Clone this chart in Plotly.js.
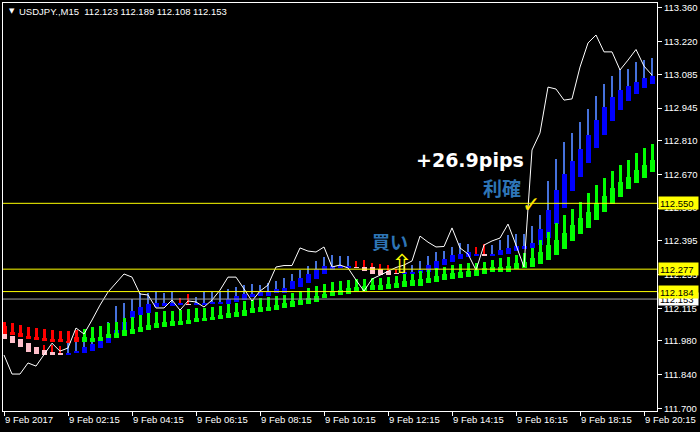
<!DOCTYPE html>
<html><head><meta charset="utf-8">
<script src="https://cdn.plot.ly/plotly-3.0.1.min.js"></script>
<style>html,body{margin:0;padding:0;background:#000;}#chart{width:700px;height:432px;}</style>
</head><body><div id="chart"></div>
<script>
// ---------- data ----------
const symbol = "USDJPY.,M15";
const headerOHLC = [112.123, 112.189, 112.108, 112.153];
const xTickText = ["9 Feb 2017","9 Feb 02:15","9 Feb 04:15","9 Feb 06:15","9 Feb 08:15","9 Feb 10:15",
                   "9 Feb 12:15","9 Feb 14:15","9 Feb 16:15","9 Feb 18:15","9 Feb 20:15"];
const yTickVals = [113.360,113.220,113.085,112.945,112.810,112.670,112.530,112.395,112.255,112.115,111.980,111.840,111.700];

// white close line (one value per 15-min bar)
const lineClose = [111.921,111.842,111.842,111.888,111.875,111.921,111.970,111.937,111.950,112.033,
 112.008,112.066,112.128,112.182,112.219,112.257,112.244,112.174,112.170,112.116,
 112.116,112.149,112.107,112.145,112.141,112.120,112.149,112.190,112.244,112.244,
 112.195,112.145,112.186,112.211,112.286,112.292,112.292,112.365,112.352,112.348,
 112.369,112.286,112.294,112.282,112.232,112.186,112.236,112.253,112.267,112.284,
 112.294,112.311,112.414,112.389,112.369,112.371,112.448,112.365,112.340,112.273,
 112.377,112.394,112.406,112.464,112.377,112.286,112.771,112.842,113.032,113.024,
 112.978,112.983,113.115,113.215,113.248,113.178,113.178,113.103,113.144,113.188,
 113.119,113.082];

// fast Heiken Ashi (blue / pink)
const aHigh = [112.008,112.000,111.986,111.972,111.955,111.962,111.962,111.958,111.969,111.975,
 111.975,111.997,112.004,112.059,112.124,112.137,112.152,112.177,112.177,112.188,
 112.179,112.181,112.157,112.173,112.163,112.181,112.181,112.186,112.195,112.204,
 112.211,112.214,112.211,112.218,112.228,112.241,112.256,112.273,112.291,112.311,
 112.329,112.334,112.333,112.333,112.309,112.315,112.302,112.300,112.294,112.278,
 112.294,112.294,112.311,112.333,112.347,112.352,112.370,112.384,112.381,112.367,
 112.381,112.377,112.398,112.420,112.422,112.422,112.456,112.501,112.643,112.734,
 112.803,112.840,112.886,112.941,112.996,113.043,113.079,113.107,113.108,113.136,
 113.145,113.154];
const aOpen = [112.008,112.000,111.986,111.972,111.955,111.942,111.933,111.929,111.921,111.929,
 111.931,111.939,111.952,111.971,111.996,112.025,112.074,112.087,112.096,112.121,
 112.124,112.125,112.128,112.134,112.128,112.128,112.131,112.131,112.131,112.141,
 112.149,112.163,112.167,112.167,112.178,112.178,112.195,112.205,112.220,112.236,
 112.257,112.272,112.282,112.283,112.287,112.286,112.284,112.276,112.271,112.263,
 112.259,112.258,112.262,112.266,112.278,112.294,112.305,112.318,112.329,112.333,
 112.340,112.333,112.337,112.341,112.352,112.361,112.363,112.377,112.405,112.463,
 112.529,112.601,112.660,112.718,112.778,112.833,112.891,112.938,112.974,113.002,
 113.030,113.046];
const aClose = [111.987,111.972,111.953,111.935,111.927,111.920,111.920,111.923,111.931,111.938,
 111.955,111.967,111.981,111.997,112.025,112.058,112.103,112.121,112.134,112.138,
 112.138,112.135,112.135,112.127,112.135,112.138,112.139,112.142,112.153,112.166,
 112.173,112.175,112.181,112.182,112.193,112.200,112.226,112.240,112.258,112.278,
 112.292,112.289,112.290,112.290,112.280,112.271,112.256,112.253,112.254,112.257,
 112.266,112.266,112.274,112.294,112.309,112.321,112.335,112.340,112.347,112.340,
 112.331,112.340,112.358,112.364,112.375,112.371,112.384,112.443,112.522,112.605,
 112.670,112.725,112.775,112.833,112.895,112.949,112.991,113.020,113.036,113.054,
 113.070,113.078];
const aWickUp = [0,0,0,0,0,0,0,0,1,1, 1,1,1,1,1,1,1,1,1,1, 1,1,0,0,1,1,1,1,1,1,
 1,1,1,1,1,1,1,1,1,1, 1,1,1,1,0,0,0,0,0,0, 1,1,1,1,1,1,1,1,1,0,
 0,1,1,1,1,1,1,1,1,1, 1,1,1,1,1,1,1,1,1,1, 1,1];

// slow Heiken Ashi (lime / red)
const bHigh = [112.058,112.054,112.045,112.037,112.033,112.029,112.025,112.020,112.020,112.025,
 112.029,112.037,112.041,112.054,112.058,112.074,112.078,112.087,112.095,112.099,
 112.103,112.103,112.108,112.112,112.116,112.116,112.120,112.124,112.132,112.137,
 112.145,112.149,112.157,112.161,112.164,112.170,112.178,112.186,112.199,112.207,
 112.215,112.224,112.228,112.232,112.236,112.238,112.240,112.242,112.244,112.249,
 112.255,112.259,112.269,112.273,112.280,112.284,112.294,112.297,112.301,112.302,
 112.308,112.315,112.322,112.329,112.336,112.343,112.366,112.398,112.432,112.467,
 112.501,112.526,112.557,112.592,112.626,112.654,112.684,112.709,112.729,112.757,
 112.778,112.798];
const bOpen = [112.041,112.016,112.012,112.000,111.996,111.991,111.987,111.987,111.979,111.996,
 111.975,111.975,111.979,111.991,111.991,112.000,112.008,112.016,112.025,112.033,
 112.037,112.041,112.045,112.050,112.058,112.062,112.066,112.070,112.074,112.078,
 112.083,112.095,112.099,112.103,112.108,112.116,112.120,112.128,112.132,112.141,
 112.157,112.166,112.170,112.176,112.182,112.186,112.190,112.190,112.195,112.199,
 112.203,112.207,112.209,112.218,112.225,112.232,112.236,112.241,112.245,112.250,
 112.255,112.264,112.267,112.266,112.278,112.283,112.287,112.297,112.315,112.336,
 112.360,112.393,112.421,112.449,112.481,112.512,112.546,112.578,112.609,112.634,
 112.657,112.681];
const bClose = [112.008,112.004,111.996,111.987,111.983,111.979,111.975,111.975,111.971,111.975,
 111.996,111.991,111.996,112.008,112.012,112.025,112.029,112.037,112.045,112.054,
 112.058,112.060,112.062,112.066,112.074,112.074,112.078,112.087,112.095,112.099,
 112.108,112.116,112.120,112.122,112.128,112.137,112.143,112.149,112.157,112.164,
 112.174,112.186,112.190,112.197,112.203,112.207,112.211,112.211,112.215,112.220,
 112.226,112.230,112.236,112.240,112.249,112.255,112.260,112.266,112.269,112.273,
 112.280,112.287,112.288,112.291,112.301,112.308,112.322,112.349,112.377,112.398,
 112.425,112.460,112.488,112.515,112.550,112.580,112.612,112.638,112.661,112.688,
 112.709,112.728];

const levels = [112.550, 112.277, 112.184];
const bidPrice = 112.153;
const noteTexts = ["+26.9pips", "利確", "買い"];

// ---------- drawing ----------
const idx = lineClose.map((_, i) => i);
const lo = (o, c) => o.map((v, i) => Math.min(v, c[i]));

function wickTrace(high, open, close, colorFn, width) {
  const base = lo(open, close);
  return {type: 'bar', x: idx, base: base, y: high.map((h, i) => h - base[i]), width: width,
    marker: {color: idx.map(colorFn), line: {width: 0}}, hoverinfo: 'skip'};
}
function bodyTrace(open, close, up, down, width) {
  const base = lo(open, close);
  return {type: 'bar', x: idx, base: base, y: open.map((o, i) => Math.abs(close[i] - o)), width: width,
    marker: {color: open.map((o, i) => close[i] >= o ? up : down), line: {width: 0}}, hoverinfo: 'skip'};
}

const traces = [
  wickTrace(aHigh, aOpen, aClose, i => aWickUp[i] ? '#4672DC' : '#FF0000', 0.14),
  bodyTrace(aOpen, aClose, '#0000FF', '#FFC0CB', 0.625),
  wickTrace(bHigh, bOpen, bClose, i => bClose[i] >= bOpen[i] ? '#00FF00' : '#FF0000', 0.375),
  bodyTrace(bOpen, bClose, '#00FF00', '#FF0000', 0.625),
  {type: 'scatter', mode: 'lines', x: idx, y: lineClose, line: {color: '#FFFFFF', width: 1}, hoverinfo: 'skip'}
];

const tickFont = {family: '"Liberation Sans", Arial, sans-serif', size: 9.5, color: '#FFFFFF'};
const shapes = levels.map(v => ({type: 'line', xref: 'paper', x0: 0, x1: 1, yref: 'y', y0: v, y1: v,
  line: {color: '#FFFF00', width: 1}}));
shapes.push({type: 'line', xref: 'paper', x0: 0, x1: 1, yref: 'y', y0: bidPrice, y1: bidPrice,
  line: {color: '#A0A0A0', width: 1}});

const annotations = [];
// bid label first so the yellow level labels sit on top of it
annotations.push({xref: 'paper', x: 1, xanchor: 'left', xshift: 1, yref: 'y', y: bidPrice,
  text: bidPrice.toFixed(3), showarrow: false, bgcolor: '#FFFFFF', font: {family: tickFont.family, size: 9.5, color: '#000'},
  width: 37, height: 10, borderpad: 1, align: 'left'});
levels.forEach(v => annotations.push({xref: 'paper', x: 1, xanchor: 'left', xshift: 1, yref: 'y', y: v,
  text: v.toFixed(3), showarrow: false, bgcolor: '#FFFF00', font: {family: tickFont.family, size: 9.5, color: '#000'},
  width: 37, height: 10, borderpad: 1, align: 'left'}));
// header
annotations.push({xref: 'paper', yref: 'paper', x: 0, y: 1, xanchor: 'left', yanchor: 'middle', xshift: 4, yshift: -8,
  text: '▼', showarrow: false, font: {family: '"DejaVu Sans", sans-serif', size: 7, color: '#FFFFFF'}});
annotations.push({xref: 'paper', yref: 'paper', x: 0, y: 1, xanchor: 'left', yanchor: 'middle', xshift: 14, yshift: -8,
  text: symbol + '\u00a0\u00a0' + headerOHLC.map(v => v.toFixed(3)).join(' '), showarrow: false,
  font: {family: tickFont.family, size: 9.5, color: '#FFFFFF'}});
// notes on the chart
annotations.push({x: 58.2, y: 112.729, text: '<b>' + noteTexts[0] + '</b>', showarrow: false,
  font: {family: '"DejaVu Sans", sans-serif', size: 19, color: '#FFFFFF'}});
annotations.push({x: 62.25, y: 112.617, text: '<b>' + noteTexts[1] + '</b>', showarrow: false,
  font: {family: '"Noto Sans CJK JP", sans-serif', size: 19, color: '#2E75B6'}});
annotations.push({x: 48.2, y: 112.393, text: '<b>' + noteTexts[2] + '</b>', showarrow: false,
  font: {family: '"Noto Sans CJK JP", sans-serif', size: 18, color: '#2E75B6'}});
annotations.push({x: 49.8, y: 112.298, text: '⇧', showarrow: false,
  font: {family: '"DejaVu Sans", sans-serif', size: 26, color: '#FFFF00'}});
annotations.push({x: 65.9, y: 112.547, text: '✓', showarrow: false,
  font: {family: '"DejaVu Sans", sans-serif', size: 22, color: '#FFE400'}});

const layout = {
  width: 700, height: 432,
  margin: {l: 3, r: 43, t: 3, b: 21},
  paper_bgcolor: '#000000', plot_bgcolor: '#000000',
  showlegend: false, barmode: 'overlay', bargap: 0,
  xaxis: {range: [-0.125, 81.625], tickvals: xTickText.map((_, k) => k * 8), ticktext: xTickText,
    ticks: 'outside', ticklen: 4, tickcolor: '#FFFFFF', tickfont: tickFont, ticklabelposition: 'outside right',
    showline: true, linecolor: '#FFFFFF', linewidth: 1, mirror: true, showgrid: false, zeroline: false},
  yaxis: {side: 'right', range: [111.6888, 113.3807], tickvals: yTickVals, ticktext: yTickVals.map(v => v.toFixed(3)),
    ticks: 'outside', ticklen: 4, tickcolor: '#FFFFFF', tickfont: tickFont,
    showline: true, linecolor: '#FFFFFF', linewidth: 1, mirror: true, showgrid: false, zeroline: false},
  shapes: shapes,
  annotations: annotations
};

Plotly.newPlot('chart', traces, layout, {staticPlot: true, displayModeBar: false});
</script>
</body></html>
